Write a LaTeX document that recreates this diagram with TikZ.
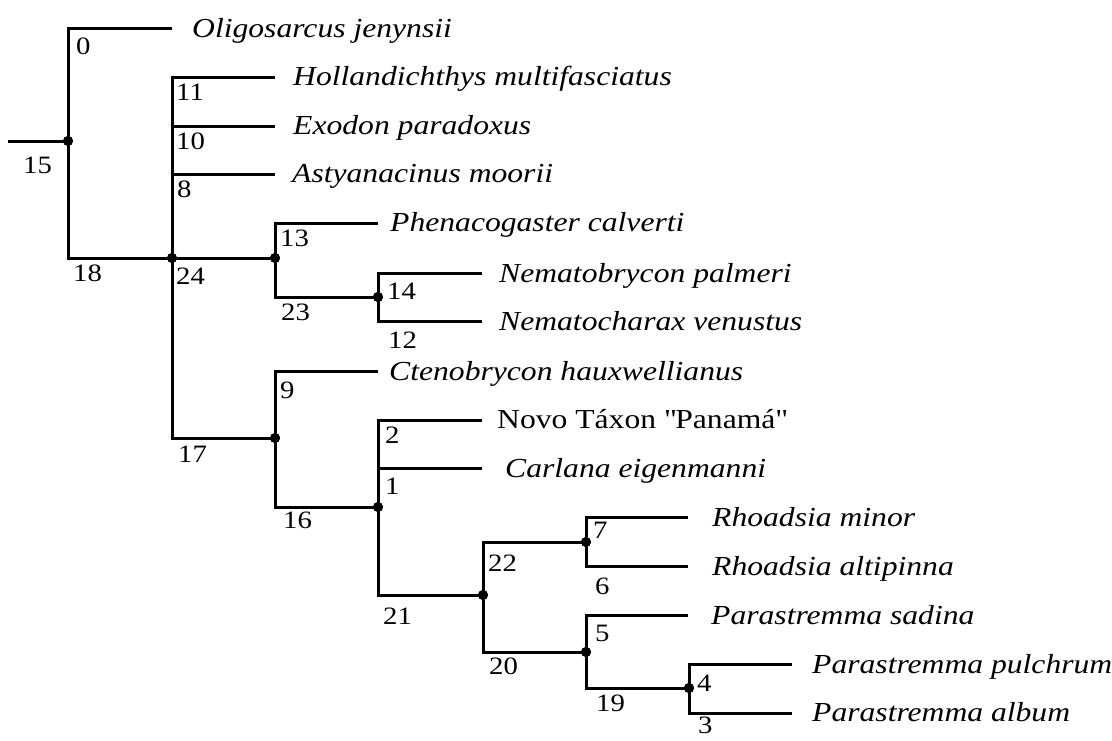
\documentclass[tikz,border=0pt]{standalone}
\usepackage{fontspec}
\setmainfont{Liberation Serif}[FakeStretch=1.15]
\begin{document}
\begin{tikzpicture}[x=1pt,y=-1pt,
  edge/.style={line width=3pt, line join=miter},
  taxon/.style={anchor=base west, inner sep=0pt, font=\fontsize{27.5}{30}\selectfont\itshape},
  taxonup/.style={anchor=base west, inner sep=0pt, font=\fontsize{27.5}{30}\selectfont\upshape},
  num/.style={anchor=north west, inner sep=0pt, font=\fontsize{25}{28}\selectfont},
  dot/.style={circle, fill=black, inner sep=0pt, minimum size=10pt}]
\useasboundingbox (0,0) rectangle (1112,740);

% internal nodes
\coordinate (base) at (8,141);
\node[dot] (n15) at (68,141) {};
\node[dot] (n24) at (172,258) {};
\node[dot] (n13) at (275,258) {};
\node[dot] (n14) at (378,297) {};
\node[dot] (n9)  at (275,438) {};
\node[dot] (n2)  at (378,507) {};
\node[dot] (n22) at (483,595) {};
\node[dot] (n7)  at (586,542) {};
\node[dot] (n5)  at (586,652) {};
\node[dot] (n4)  at (689,688) {};

% leaf ends
\coordinate (t0)  at (172,28);
\coordinate (t11) at (275,77);
\coordinate (t10) at (275,126);
\coordinate (t8)  at (275,174);
\coordinate (t13) at (378,223);
\coordinate (t14) at (482,273);
\coordinate (t12) at (482,321);
\coordinate (t9)  at (378,371);
\coordinate (tA)  at (482,420);
\coordinate (tB)  at (482,468);
\coordinate (tC)  at (688,517);
\coordinate (tD)  at (688,566);
\coordinate (tE)  at (688,615);
\coordinate (tF)  at (792,664);
\coordinate (tG)  at (792,713);

% taxa
\node[taxon] (L0)  at (192,37)  {Oligosarcus jenynsii};
\node[taxon] (L11) at (293,85)  {Hollandichthys multifasciatus};
\node[taxon] (L10) at (293,134) {Exodon paradoxus};
\node[taxon] (L8)  at (292,182) {Astyanacinus moorii};
\node[taxon] (L13) at (390,231) {Phenacogaster calverti};
\node[taxon] (L14) at (499,282) {Nematobrycon palmeri};
\node[taxon] (L12) at (499,330) {Nematocharax venustus};
\node[taxon] (L9)  at (389,380) {Ctenobrycon hauxwellianus};
\node[taxonup] (LA) at (497,428) {Novo Táxon \textquotedbl Panamá\textquotedbl};
\node[taxon] (LB)  at (505,477) {Carlana eigenmanni};
\node[taxon] (LC)  at (712,526) {Rhoadsia minor};
\node[taxon] (LD)  at (712,575) {Rhoadsia altipinna};
\node[taxon] (LE)  at (711,624) {Parastremma sadina};
\node[taxon] (LF)  at (812,673) {Parastremma pulchrum};
\node[taxon] (LG)  at (812,721) {Parastremma album};

% branches
\draw[edge] (base) -- (n15.center);
\draw[edge] (n15.center) |- (t0);
\draw[edge] (n15.center) |- (n24.center);
\draw[edge] (n24.center) |- (t11);
\draw[edge] (n24.center) |- (t10);
\draw[edge] (n24.center) |- (t8);
\draw[edge] (n24.center) -- (n13.center);
\draw[edge] (n24.center) |- (n9.center);
\draw[edge] (n13.center) |- (t13);
\draw[edge] (n13.center) |- (n14.center);
\draw[edge] (n14.center) |- (t14);
\draw[edge] (n14.center) |- (t12);
\draw[edge] (n9.center) |- (t9);
\draw[edge] (n9.center) |- (n2.center);
\draw[edge] (n2.center) |- (tA);
\draw[edge] (n2.center) |- (tB);
\draw[edge] (n2.center) |- (n22.center);
\draw[edge] (n22.center) |- (n7.center);
\draw[edge] (n22.center) |- (n5.center);
\draw[edge] (n7.center) |- (tC);
\draw[edge] (n7.center) |- (tD);
\draw[edge] (n5.center) |- (tE);
\draw[edge] (n5.center) |- (n4.center);
\draw[edge] (n4.center) |- (tF);
\draw[edge] (n4.center) |- (tG);

% redraw dots on top
\foreach \n in {n15,n24,n13,n14,n9,n2,n22,n7,n5,n4}
  \fill (\n.center) circle (5pt);

% branch numbers
\node[num] (b15) at (23,157)  {15};
\node[num] (b0)  at (76,38)   {0};
\node[num] (b18) at (73,265)  {18};
\node[num] (b11) at (176,84)  {11};
\node[num] (b10) at (176,133) {10};
\node[num] (b8)  at (177,181) {8};
\node[num] (b24) at (176,268) {24};
\node[num] (b13) at (280,230) {13};
\node[num] (b23) at (281,304) {23};
\node[num] (b14) at (387,283) {14};
\node[num] (b12) at (388,332) {12};
\node[num] (b17) at (178,446) {17};
\node[num] (b9)  at (280,382) {9};
\node[num] (b16) at (283,512) {16};
\node[num] (b2)  at (385,427) {2};
\node[num] (b1)  at (385,478) {1};
\node[num] (b21) at (383,608) {21};
\node[num] (b22) at (488,555) {22};
\node[num] (b20) at (489,658) {20};
\node[num] (b7)  at (593,522) {7};
\node[num] (b6)  at (595,578) {6};
\node[num] (b5)  at (595,625) {5};
\node[num] (b19) at (596,695) {19};
\node[num] (b4)  at (697,675) {4};
\node[num] (b3)  at (698,717) {3};
\end{tikzpicture}
\end{document}
